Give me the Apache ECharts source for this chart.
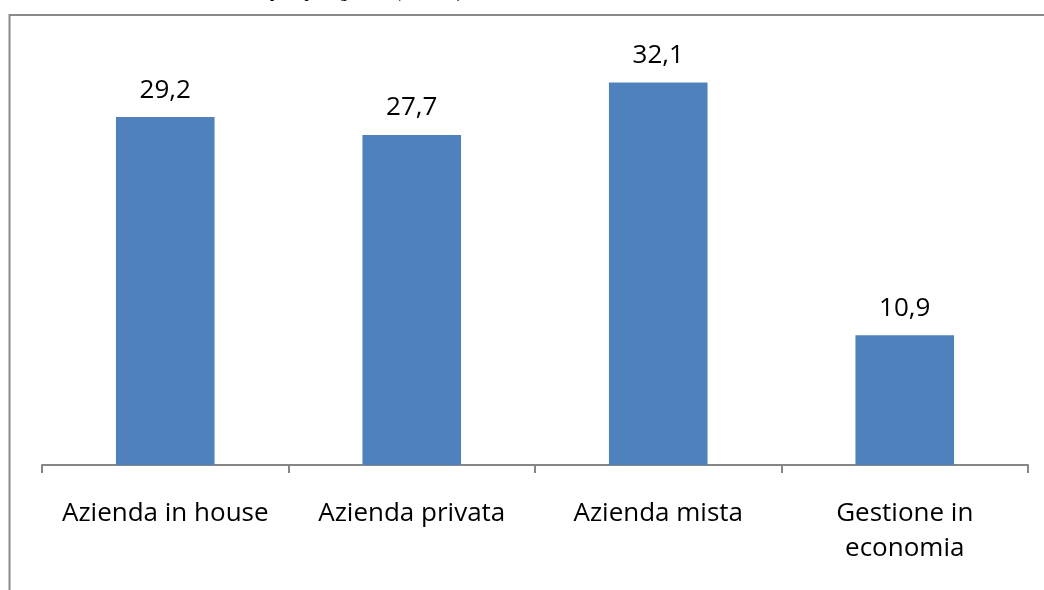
<!DOCTYPE html>
<html>
<head>
<meta charset="utf-8">
<script src="https://cdn.jsdelivr.net/npm/echarts@6/dist/echarts.min.js"></script>
<style>
  html, body { margin: 0; padding: 0; background: #fff; }
  #chart { width: 1044px; height: 590px; }
</style>
</head>
<body>
<div id="chart"></div>
<script>
// Share of services by management type (%)
const categories = ['Azienda in house', 'Azienda privata', 'Azienda mista', 'Gestione in\neconomia'];
const values = [29.2, 27.7, 32.1, 10.9];
const captionText = 'Distribuzione per tipo di gestione (valori %)';

const FONT = '"Open Sans", sans-serif';
const chart = echarts.init(document.getElementById('chart'), null, { renderer: 'canvas' });

chart.setOption({
  animation: false,
  backgroundColor: '#ffffff',
  grid: { left: 42, right: 16, top: 48, bottom: 125, containLabel: false },
  xAxis: {
    type: 'category',
    data: categories,
    axisLine: { lineStyle: { color: '#868686', width: 2 } },
    axisTick: { show: true, length: 8, lineStyle: { color: '#868686', width: 2 } },
    axisLabel: {
      interval: 0,
      color: '#000',
      fontFamily: FONT,
      fontSize: 26,
      lineHeight: 35,
      margin: 31
    }
  },
  yAxis: {
    type: 'value',
    min: 0,
    max: 35,
    show: false,
    splitLine: { show: false }
  },
  series: [{
    type: 'bar',
    data: values,
    barWidth: '40%',
    itemStyle: { color: '#4F81BD' },
    label: {
      show: true,
      position: 'top',
      distance: 14,
      color: '#000',
      fontFamily: FONT,
      fontSize: 26,
      formatter: p => p.value.toFixed(1).replace('.', ',')
    }
  }],
  graphic: [
    {
      type: 'rect',
      silent: true,
      shape: { x: 9.5, y: 15, width: 1200, height: 800 },
      style: { fill: 'none', stroke: '#898989', lineWidth: 2 }
    },
    {
      type: 'text',
      right: 582,
      top: -13,
      style: { text: captionText, font: 'bold 15px "Liberation Serif", serif', fill: '#000' }
    }
  ]
});
</script>
</body>
</html>
